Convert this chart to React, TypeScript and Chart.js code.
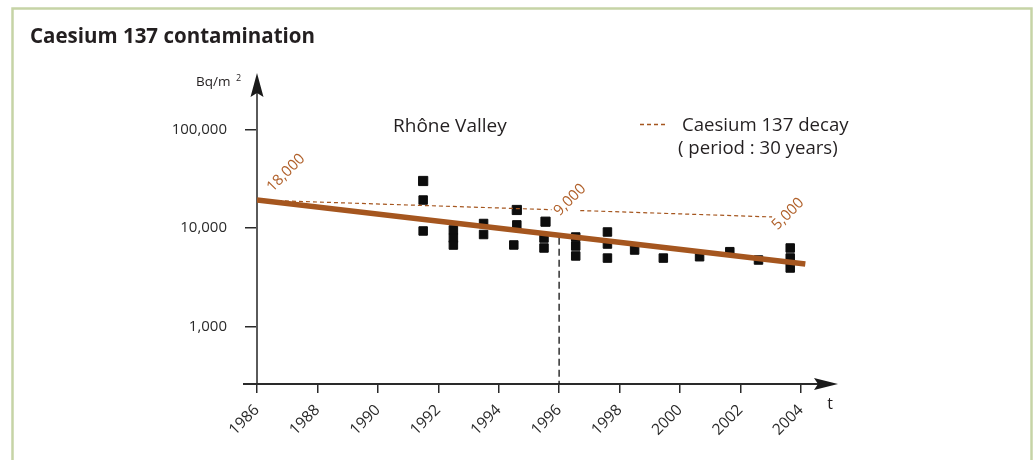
import React, { useEffect, useRef } from "react";
import Chart from "chart.js/auto";

// ---- data ----
const xTicks = [1986, 1988, 1990, 1992, 1994, 1996, 1998, 2000, 2002, 2004];
const yTicks = [1000, 10000, 100000];
const xMin = 1986;
const xMax = 2005;
const yMin = 263.5;
const yMax = 365600;

const measYears = [
  1991.5, 1991.5, 1991.5,
  1992.5, 1992.5, 1992.5,
  1993.5, 1993.5,
  1994.6, 1994.6, 1994.5,
  1995.55, 1995.5, 1995.5,
  1996.55, 1996.55, 1996.55,
  1997.6, 1997.6, 1997.6,
  1998.5, 1999.45, 2000.65, 2001.65, 2002.6,
  2003.65, 2003.65, 2003.65,
];
const measValues = [
  30100, 19300, 9370,
  9600, 7950, 6750,
  11160, 8630,
  15300, 10800, 6760,
  11640, 7950, 6300,
  8140, 6600, 5230,
  9150, 6910, 4980,
  6010, 4980, 5140, 5780, 4760,
  6300, 4990, 3950,
];

const trendYears = [1986, 2004.15];
const trendValues = [19300, 4330];

const decayYears = [1986, 1995.75, 1996.2, 1996.7, 2003.05];
const decayValues = [19300, 15400, null, 15100, 13000];

const markerYear = 1996;
const markerTop = 8000;

const labelTexts = ["18,000", "9,000", "5,000"];
const labelYears = [1986.96, 1996.36, 2003.58];
const labelValues = [36270, 19300, 13930];

const FONT = "'Open Sans', 'Noto Sans', sans-serif";
const BROWN = "#a5561f";
const LABEL_BROWN = "#b0602a";
const TEXT = "#231f20";

const starIdx = [0, 8, 11];

const decor = {
  id: "decor",
  beforeDraw(chart: any) {
    const ctx = chart.ctx;
    ctx.save();
    ctx.fillStyle = "#ffffff";
    ctx.fillRect(0, 0, chart.width, chart.height);
    ctx.strokeStyle = "#c6d4a6";
    ctx.lineWidth = 2.5;
    ctx.strokeRect(12.5, 8.5, 1019, 480);
    ctx.fillStyle = TEXT;
    ctx.font = `bold 20.5px ${FONT}`;
    ctx.textBaseline = "alphabetic";
    ctx.textAlign = "left";
    ctx.fillText("Caesium 137 contamination", 30, 43);
    ctx.restore();
  },
  beforeDatasetsDraw(chart: any) {
    const ctx = chart.ctx;
    const { left, right, top, bottom } = chart.chartArea;
    ctx.save();
    // y axis
    ctx.strokeStyle = "#5a5a5a";
    ctx.lineWidth = 2;
    ctx.beginPath();
    ctx.moveTo(left, bottom);
    ctx.lineTo(left, top + 18);
    ctx.stroke();
    ctx.fillStyle = "#1a1a1a";
    ctx.beginPath();
    ctx.moveTo(left, top - 1);
    ctx.lineTo(left - 6.5, top + 23);
    ctx.lineTo(left, top + 19);
    ctx.lineTo(left + 6.5, top + 23);
    ctx.closePath();
    ctx.fill();
    // x axis
    ctx.strokeStyle = "#2a2a2a";
    ctx.beginPath();
    ctx.moveTo(left - 14, bottom);
    ctx.lineTo(right - 12, bottom);
    ctx.stroke();
    ctx.beginPath();
    ctx.moveTo(right + 7, bottom);
    ctx.lineTo(right - 17, bottom - 6);
    ctx.lineTo(right - 13, bottom);
    ctx.lineTo(right - 17, bottom + 6);
    ctx.closePath();
    ctx.fill();
    // texts
    ctx.fillStyle = TEXT;
    ctx.textBaseline = "alphabetic";
    ctx.textAlign = "left";
    ctx.font = `13.5px ${FONT}`;
    ctx.fillText("Bq/m", 196, 86);
    ctx.font = `9px ${FONT}`;
    ctx.fillText("2", 236, 81);
    ctx.font = `16px ${FONT}`;
    ctx.textAlign = "center";
    ctx.fillText("t", 830, 409);
    ctx.textAlign = "left";
    ctx.font = `19px ${FONT}`;
    ctx.fillText("Rhône Valley", 393, 132);
    ctx.font = `18.6px ${FONT}`;
    ctx.fillText("Caesium 137 decay", 682, 131);
    ctx.fillText("( period : 30 years)", 678, 154);
    ctx.strokeStyle = BROWN;
    ctx.lineWidth = 1.3;
    ctx.setLineDash([4, 3]);
    ctx.beginPath();
    ctx.moveTo(640, 124.5);
    ctx.lineTo(668, 124.5);
    ctx.stroke();
    ctx.restore();
  },
  afterDatasetsDraw(chart: any) {
    const ctx = chart.ctx;
    const xs = chart.scales.x;
    const ys = chart.scales.y;
    ctx.save();
    ctx.fillStyle = LABEL_BROWN;
    ctx.font = `15px ${FONT}`;
    ctx.textAlign = "center";
    ctx.textBaseline = "middle";
    labelTexts.forEach((t, i) => {
      const px = xs.getPixelForValue(labelYears[i]);
      const py = ys.getPixelForValue(labelValues[i]);
      ctx.save();
      ctx.translate(px, py);
      ctx.rotate(-Math.PI / 4);
      ctx.fillText(t, 0, 0);
      ctx.restore();
    });
    ctx.restore();
  },
};

export default function App() {
  const ref = useRef<HTMLCanvasElement>(null);
  useEffect(() => {
    if (!ref.current) return;
    const chart = new Chart(ref.current, {
      type: "scatter",
      data: {
        datasets: [
          {
            type: "line",
            data: trendYears.map((x, i) => ({ x, y: trendValues[i] })),
            borderColor: BROWN,
            borderWidth: 5.5,
            pointRadius: 0,
            borderCapStyle: "butt",
          },
          {
            type: "line",
            data: decayYears.map((x, i) => ({ x, y: decayValues[i] })),
            borderColor: BROWN,
            borderWidth: 1.2,
            borderDash: [4, 3],
            pointRadius: 0,
            spanGaps: false,
          },
          {
            type: "line",
            data: [
              { x: markerYear, y: markerTop },
              { x: markerYear, y: yMin },
            ],
            borderColor: "#111",
            borderWidth: 1.3,
            borderDash: [7, 4],
            pointRadius: 0,
          },
          {
            type: "scatter",
            data: measYears.map((x, i) => ({ x, y: measValues[i] })),
            backgroundColor: "#0d0d0d",
            borderColor: "#0d0d0d",
            pointStyle: "rect",
            pointRadius: (c: any) => (starIdx.includes(c.dataIndex) ? 6.5 : 6),
            borderWidth: 1,
          },
        ],
      },
      options: {
        responsive: false,
        animation: false,
        events: [],
        layout: { padding: { left: 0, top: 74, right: 203, bottom: 0 } },
        plugins: { legend: { display: false }, tooltip: { enabled: false }, title: { display: false } },
        scales: {
          x: {
            type: "linear",
            min: xMin,
            max: xMax,
            afterBuildTicks: (s: any) => {
              s.ticks = xTicks.map((v) => ({ value: v }));
            },
            afterFit: (s: any) => {
              s.height = 76;
            },
            grid: {
              display: true,
              drawOnChartArea: false,
              drawTicks: true,
              tickLength: 9,
              color: "#2a2a2a",
              lineWidth: 1.5,
            },
            border: { display: false },
            ticks: {
              minRotation: 45,
              maxRotation: 45,
              autoSkip: false,
              padding: 8,
              color: "#2a2a2a",
              font: { family: FONT, size: 15.5 },
              callback: (v: any) => String(v),
            },
          },
          y: {
            type: "logarithmic",
            min: yMin,
            max: yMax,
            afterBuildTicks: (s: any) => {
              s.ticks = yTicks.map((v) => ({ value: v }));
            },
            afterFit: (s: any) => {
              s.width = 257;
            },
            grid: {
              display: true,
              drawOnChartArea: false,
              drawTicks: true,
              tickLength: 12,
              color: "#2a2a2a",
              lineWidth: 1.5,
            },
            border: { display: false },
            ticks: {
              padding: 18,
              color: "#2a2a2a",
              font: { family: FONT, size: 15 },
              callback: (v: any) => Number(v).toLocaleString("en-US"),
            },
          },
        },
      },
      plugins: [decor],
    } as any);
    return () => chart.destroy();
  }, []);
  return (
    <div style={{ position: "absolute", left: 0, top: 0, width: 1034, height: 460 }}>
      <canvas ref={ref} width={1034} height={460} style={{ display: "block" }} />
    </div>
  );
}
